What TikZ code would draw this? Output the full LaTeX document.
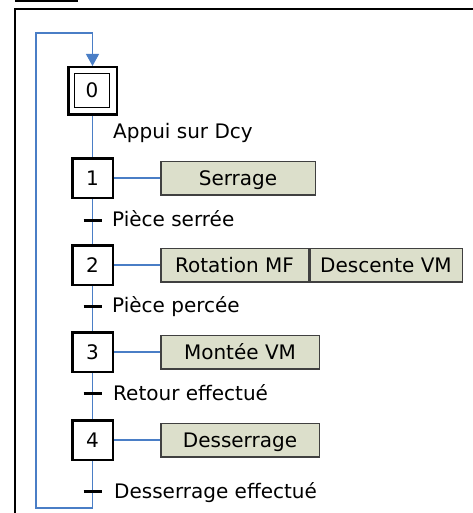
\documentclass[tikz,border=0pt]{standalone}
\usepackage{fontspec}
\setmainfont{DejaVu Sans}
\usetikzlibrary{arrows.meta}
\definecolor{linkblue}{HTML}{4A7EC6}
\definecolor{actfill}{HTML}{DCDFCB}
\definecolor{actdraw}{HTML}{404040}
\begin{document}
\begin{tikzpicture}[x=1pt,y=-1pt,
  txt/.style={font=\fontsize{20}{24}\selectfont,text height=14.6pt,text depth=0pt},
  stepbox/.style={txt,draw=black,line width=2.5pt,minimum width=40.5pt,minimum height=39.5pt,inner sep=0pt},
  initouter/.style={draw=black,line width=2.5pt,minimum width=48.5pt,minimum height=47.5pt,inner sep=0pt},
  initinner/.style={txt,draw=black,line width=1pt,minimum width=35pt,minimum height=34pt,inner sep=0pt},
  actbox/.style={txt,draw=actdraw,fill=actfill,line width=1.5pt,minimum height=33.5pt,inner sep=0pt},
  link/.style={draw=linkblue,line width=1.2pt},
  tbar/.style={draw=black,line width=3pt},
  cond/.style={txt,anchor=west,inner sep=0pt},
  framel/.style={draw=black,line width=2pt}
]
\useasboundingbox (0,0) rectangle (472,513);
% frame
\coordinate (fa) at (15,0.8);
\coordinate (fb) at (78,0.8);
\draw[line width=1.5pt] (fa) -- (fb);
\coordinate (ftl) at (15,9);
\coordinate (ftr) at (473,9);
\coordinate (fbl) at (15,514);
\draw[framel] (fbl) -- (ftl) -- (ftr);

% steps
\node[initouter] (s0) at (92.5,91) {};
\node[initinner] (s0i) at (92,90.5) {0};
\node[stepbox] (s1) at (92.5,178) {1};
\node[stepbox] (s2) at (92.5,265) {2};
\node[stepbox] (s3) at (92.5,352) {3};
\node[stepbox] (s4) at (92.5,440) {4};

% actions
\node[actbox,minimum width=154.5pt] (a1) at (238,178) {Serrage};
\node[actbox,minimum width=147.5pt] (a2a) at (234.5,265) {Rotation MF};
\node[actbox,minimum width=152.5pt] (a2b) at (386,265) {Descente VM};
\node[actbox,minimum width=158.5pt] (a3) at (240,352) {Montée VM};
\node[actbox,minimum width=158.5pt] (a4) at (240,440) {Desserrage};

% step-action links
\draw[link] (s1.east) -- (a1.west);
\draw[link] (s2.east) -- (a2a.west);
\draw[link] (s3.east) -- (a3.west);
\draw[link] (s4.east) -- (a4.west);

% vertical links
\draw[link] (s0.south) -- (s1.north);
\draw[link] (s1.south) -- (s2.north);
\draw[link] (s2.south) -- (s3.north);
\draw[link] (s3.south) -- (s4.north);

% loop back
\coordinate (lb) at (92.5,508);
\coordinate (lbl) at (36,508);
\coordinate (ltl) at (36,33);
\coordinate (ltr) at (92.5,33);
\draw[link] (s4.south) -- (lb) -- (lbl) -- (ltl) -- (ltr);
\draw[link,-{Triangle[width=13pt,length=12pt]},fill=linkblue] (ltr) -- (s0.north);

% transitions
\coordinate (t1) at (92.5,220);
\coordinate (t2) at (92.5,306);
\coordinate (t3) at (92.5,393);
\coordinate (t4) at (92.5,491);
\foreach \t in {t1,t2,t3,t4}{
  \draw[tbar] ([xshift=-9pt]\t) -- ([xshift=9pt]\t);
}
\node[cond] (c0) at (113,131.5) {Appui sur Dcy};
\node[cond] (c1) at (112,219) {Pièce serrée};
\node[cond] (c2) at (112,305.5) {Pièce percée};
\node[cond] (c3) at (113,393) {Retour effectué};
\node[cond] (c4) at (114,491) {Desserrage effectué};
\end{tikzpicture}
\end{document}
